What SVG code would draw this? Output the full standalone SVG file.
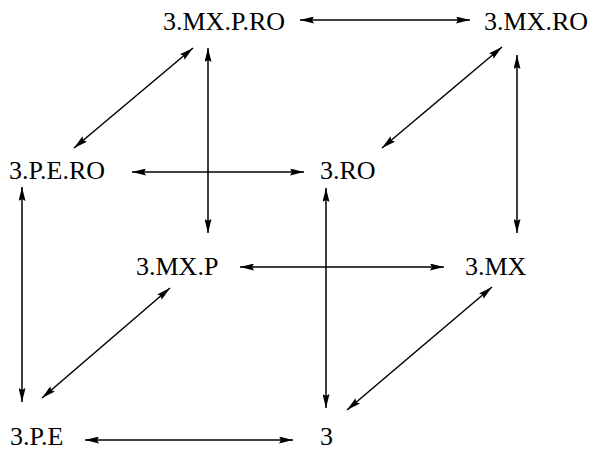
<svg xmlns="http://www.w3.org/2000/svg" width="597" height="451" viewBox="0 0 597 451">
<defs>
<marker id="ah" viewBox="0 0 14 7" refX="14" refY="3.5" markerWidth="14" markerHeight="7" markerUnits="userSpaceOnUse" orient="auto-start-reverse">
<path d="M0,0 L14,3.5 L0,7 L2,3.5 z" fill="#000"/>
</marker>
<style>
.lbl{font-family:"Liberation Serif","Times New Roman",serif;font-size:26px;fill:#000}
.c line{stroke:#000;stroke-width:1.5;fill:none;marker-start:url(#ah);marker-end:url(#ah)}
</style>
</defs>
<rect width="597" height="451" fill="#fff"/>
<g id="n-mxpro"><text class="lbl" x="163" y="30">3.MX.P.RO</text></g>
<g id="n-mxro"><text class="lbl" x="484" y="30">3.MX.RO</text></g>
<g id="n-pero"><text class="lbl" x="9" y="179">3.P.E.RO</text></g>
<g id="n-ro"><text class="lbl" x="320" y="179">3.RO</text></g>
<g id="n-mxp"><text class="lbl" x="136" y="275">3.MX.P</text></g>
<g id="n-mx"><text class="lbl" x="465" y="275">3.MX</text></g>
<g id="n-pe"><text class="lbl" x="10" y="445">3.P.E</text></g>
<g id="n-3"><text class="lbl" x="320" y="445">3</text></g>
<g class="c" id="connectors">
<line x1="300" y1="20" x2="470" y2="20"/>
<line x1="193" y1="48" x2="74" y2="148"/>
<line x1="208" y1="48" x2="208" y2="233"/>
<line x1="502" y1="47" x2="382" y2="148"/>
<line x1="517" y1="55" x2="517" y2="233"/>
<line x1="132" y1="172" x2="304" y2="172"/>
<line x1="326" y1="188" x2="326" y2="408"/>
<line x1="22" y1="187" x2="22" y2="402"/>
<line x1="240" y1="267" x2="444" y2="267"/>
<line x1="170" y1="288" x2="42" y2="398"/>
<line x1="492" y1="287" x2="347" y2="410"/>
<line x1="85" y1="440" x2="293" y2="440"/>
</g>
</svg>
